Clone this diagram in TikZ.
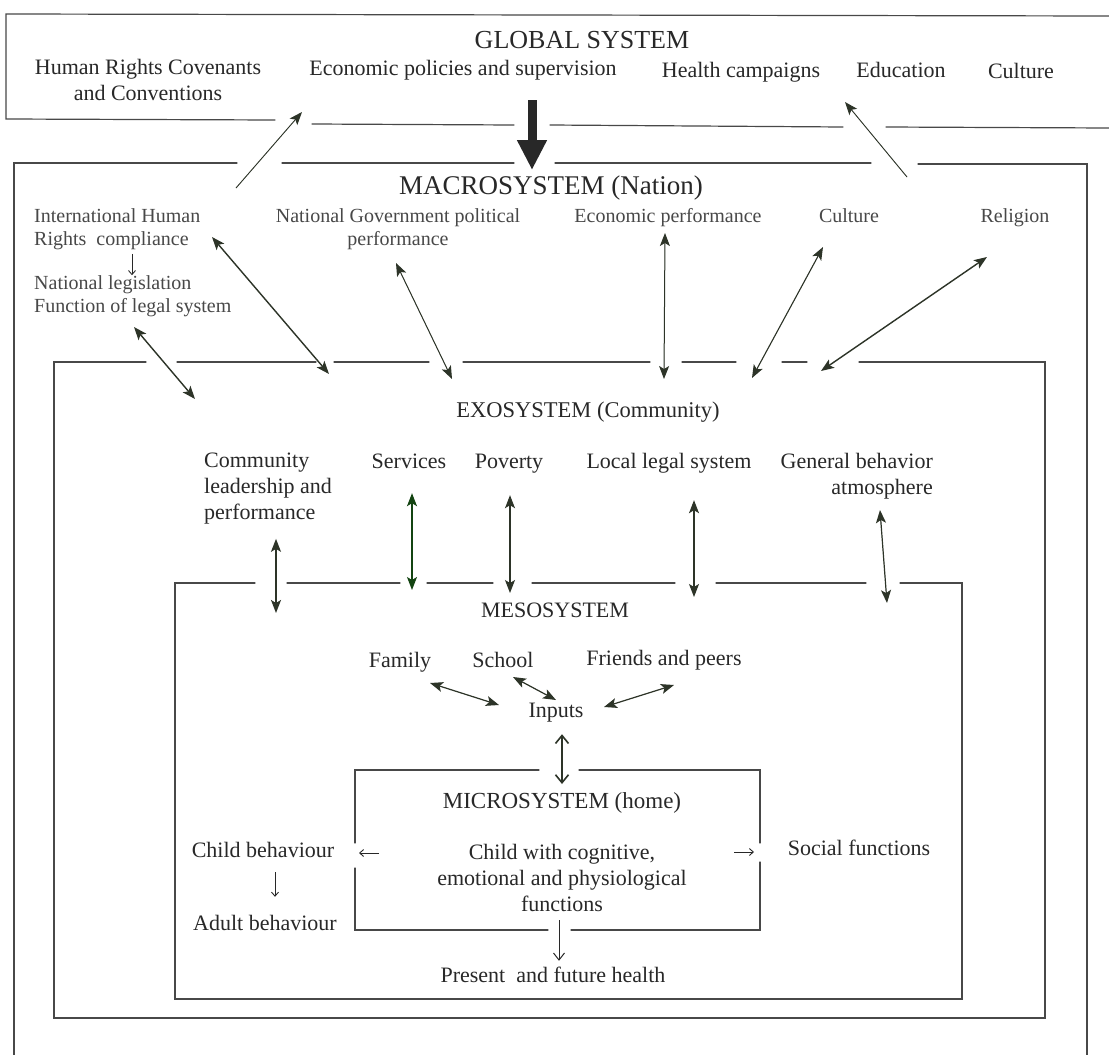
\documentclass[tikz,border=0pt]{standalone}
\usepackage{fontspec}
\setmainfont{Liberation Serif}
\usetikzlibrary{arrows.meta}
\definecolor{ink}{RGB}{40,40,40}
\definecolor{headc}{RGB}{45,52,40}
\begin{document}
\begin{tikzpicture}[x=1pt,y=-1pt,
  frame/.style={line width=1.2pt, draw=ink!85, line cap=round},
  txt/.style={inner sep=0pt, text=ink, font=\fontsize{22}{26}\selectfont},
  sl/.style={text height=15pt, text depth=5pt},
  ttl/.style={inner sep=0pt, text=ink, font=\fontsize{26}{30}\selectfont, text height=18pt, text depth=5pt},
  mac/.style={inner sep=0pt, text=ink!85, font=\fontsize{20}{23}\selectfont},
  tipf/.tip={Stealth[length=13pt,width=10pt,inset=3pt]},
  tipo/.tip={Straight Barb[length=8pt,width=13pt]},
  dbl/.style={tipf-tipf, line width=1.2pt, draw=headc, fill=headc},
  one/.style={-tipf, line width=1.1pt, draw=headc, fill=headc},
  opn/.style={tipo-tipo, line width=1.6pt, draw=headc},
  small/.style={-{Straight Barb[length=4pt,width=7pt]}, line width=0.9pt, draw=ink}
]
\useasboundingbox (0,0) rectangle (1109,1055);
\fill[white] (0,0) rectangle (1109,1055);

% ---------------- GLOBAL SYSTEM ----------------
\draw[frame] (1109,16) -- (6,14) -- (6,119) -- (275,120);
\draw[frame] (312,124) -- (514,125);
\draw[frame] (550,125) -- (843,127);
\draw[frame] (886,127) -- (1109,128);

\node[ttl] (gtitle) at (582,42) {GLOBAL SYSTEM};
\node[txt, align=center] (ghr) at (148,80) {Human Rights Covenants\\and Conventions};
\node[txt, sl] (gecon) at (463,70) {Economic policies and supervision};
\node[txt, sl] (ghealth) at (741,72) {Health campaigns};
\node[txt, sl] (gedu) at (901,72) {Education};
\node[txt, sl] (gcult) at (1021,73) {Culture};

% ---------------- MACROSYSTEM ----------------
\draw[frame] (14,1055) -- (14,163) -- (237,163);
\draw[frame] (282,163) -- (514,163);
\draw[frame] (555,163) -- (871,163);
\draw[frame] (918,164) -- (1087,164) -- (1087,1055);

\node[ttl, font=\fontsize{27}{30}\selectfont] (mtitle) at (551,188) {MACROSYSTEM (Nation)};
\node[mac, align=left, anchor=west] (mihr) at (34,229) {International Human\\Rights\ \ compliance};
\node[mac, align=left, anchor=west] (mleg) at (34,296) {National legislation\\Function of legal system};
\node[mac, align=center] (mgov) at (398,229) {National Government political\\performance};
\node[mac, sl] (mecon) at (668,217) {Economic performance};
\node[mac, sl] (mcult) at (849,217) {Culture};
\node[mac, sl] (mrel) at (1015,217) {Religion};

\draw[small, shorten <=4pt] (mihr.south -| 132,0) -- (mleg.north -| 132,0);

% heavy arrow global -> macro
\coordinate (hvA) at (532,100);
\coordinate (hvB) at (532,170);
\draw[line width=9pt, draw=ink, -{Triangle[length=30pt,width=28pt]}] (hvA) -- (hvB);

% macro -> global arrows
\coordinate (mg1a) at (236,188); \coordinate (mg1b) at (302,112);
\coordinate (mg2a) at (907,177); \coordinate (mg2b) at (845,102);
\draw[one, line width=0.9pt] (mg1a) -- (mg1b);
\draw[one, line width=0.9pt] (mg2a) -- (mg2b);

% ---------------- EXOSYSTEM ----------------
\draw[frame] (146,362) -- (54,362) -- (54,1018) -- (1045,1018) -- (1045,362) -- (859,362);
\draw[frame] (177,362) -- (316,362);
\draw[frame] (334,362) -- (429,362);
\draw[frame] (463,362) -- (650,362);
\draw[frame] (682,362) -- (736,362);
\draw[frame] (782,362) -- (807,362);

\node[txt, sl, font=\fontsize{22.5}{26}\selectfont] (etitle) at (588,412) {EXOSYSTEM (Community)};
\node[txt, align=left, anchor=west] (ecomm) at (204,489) {Community\\leadership and\\performance};
\node[txt, sl] (eserv) at (409,463) {Services};
\node[txt, sl] (epov) at (509,463) {Poverty};
\node[txt, sl] (elegal) at (669,463) {Local legal system};
\node[txt, align=right, anchor=east] (egb) at (933,476) {General behavior\\atmosphere};

% macro <-> exo arrows
\coordinate (x1a) at (212,237); \coordinate (x1b) at (329,374);
\coordinate (x2a) at (134,327); \coordinate (x2b) at (195,399);
\coordinate (x3a) at (396,263); \coordinate (x3b) at (452,379);
\coordinate (x4a) at (665,233); \coordinate (x4b) at (664,379);
\coordinate (x5a) at (823,247); \coordinate (x5b) at (752,378);
\coordinate (x6a) at (987,257); \coordinate (x6b) at (821,371);
\draw[dbl, line width=1.4pt] (x1a) -- (x1b);
\draw[dbl, line width=1.4pt] (x2a) -- (x2b);
\draw[dbl, line width=1pt] (x3a) -- (x3b);
\draw[dbl, line width=1pt] (x4a) -- (x4b);
\draw[dbl, line width=1.1pt] (x5a) -- (x5b);
\draw[dbl, line width=1.4pt] (x6a) -- (x6b);

% ---------------- MESOSYSTEM ----------------
\draw[frame] (255,583) -- (175,583) -- (175,999) -- (962,999) -- (962,583) -- (900,583);
\draw[frame] (287,583) -- (400,583);
\draw[frame] (427,583) -- (493,583);
\draw[frame] (532,583) -- (675,583);
\draw[frame] (716,583) -- (866,583);
\draw[frame, line width=2pt] (175,999) -- (962,999);

\node[txt, sl] (stitle) at (555,612) {MESOSYSTEM};
\node[txt, sl] (sfam) at (400,662) {Family};
\node[txt, sl] (sschool) at (503,662) {School};
\node[txt, sl] (sfriends) at (664,660) {Friends and peers};
\node[txt, sl] (sinputs) at (556,712) {Inputs};

% exo <-> meso arrows
\draw[dbl, line width=1.5pt] (ecomm.south -| 276,0) ++(0,14) coordinate (e1a) -- (276,613) coordinate (e1b);
\draw[dbl, draw=headc!70!green!60!black] (eserv.south -| 412,0) ++(0,20) coordinate (e2a) -- (412,590) coordinate (e2b);
\draw[dbl] (epov.south -| 510,0) ++(0,22) coordinate (e3a) -- (510,593) coordinate (e3b);
\draw[dbl] (elegal.south -| 694,0) ++(0,27) coordinate (e4a) -- (694,597) coordinate (e4b);
\coordinate (e5a) at (880,510); \coordinate (e5b) at (887,603);
\draw[dbl] (e5a) -- (e5b);

% meso arrows to inputs
\coordinate (f1a) at (430,683); \coordinate (f1b) at (499,705);
\coordinate (f2a) at (513,677); \coordinate (f2b) at (556,700);
\coordinate (f3a) at (674,685); \coordinate (f3b) at (604,707);
\draw[dbl] (f1a) -- (f1b);
\draw[dbl] (f2a) -- (f2b);
\draw[dbl] (f3a) -- (f3b);

% ---------------- MICROSYSTEM ----------------
\draw[frame] (539,770) -- (355,770) -- (355,843);
\draw[frame] (355,868) -- (355,930) -- (548,930);
\draw[frame] (579,770) -- (760,770) -- (760,843);
\draw[frame] (760,862) -- (760,930) -- (571,930);

\draw[opn] (sinputs.south -| 562,0) ++(0,12) coordinate (ia) -- (562,784) coordinate (ib);

\node[txt, sl, font=\fontsize{23}{26}\selectfont] (ititle) at (562,803) {MICROSYSTEM (home)};
\node[txt, align=center] (ichild) at (562,878) {Child with cognitive,\\emotional and physiological\\functions};
\node[txt, sl] (ichildb) at (263,852) {Child behaviour};
\node[txt, sl] (iadult) at (265,925) {Adult behaviour};
\node[txt, sl] (isocial) at (859,850) {Social functions};
\node[txt, sl] (ipresent) at (553,977) {Present\ \ and future health};

\coordinate (l1a) at (379,853); \coordinate (l1b) at (359,853);
\draw[small] (l1a) -- (l1b);
\coordinate (r1a) at (734,852); \coordinate (r1b) at (754,852);
\draw[small] (r1a) -- (r1b);
\draw[small, shorten <=10pt, shorten >=18pt] (ichildb.south -| 275,0) -- (iadult.north -| 275,0);
\draw[-{Straight Barb[length=7pt,width=11pt]}, line width=1pt, draw=ink, shorten >=6pt] (559,920) coordinate (pa) -- (ipresent.north -| 559,0);
\end{tikzpicture}
\end{document}
